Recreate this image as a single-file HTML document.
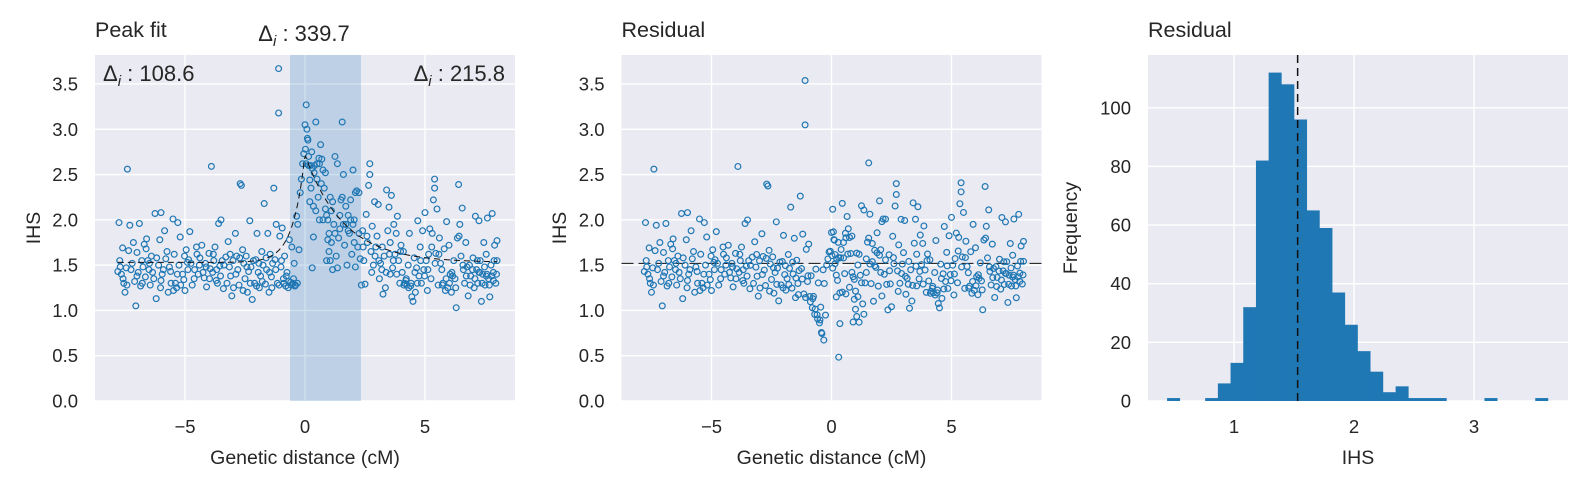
<!DOCTYPE html>
<html><head><meta charset="utf-8"><style>
html,body{margin:0;padding:0;background:#fff;}
svg{display:block;font-family:"Liberation Sans",Arial,sans-serif;}
</style></head><body>
<svg id="fig" width="1588" height="488" viewBox="0 0 1588 488" xmlns="http://www.w3.org/2000/svg"></svg>
<script>
// ---- data ----
const xVals = [
-7.8,-7.75,-7.7,-7.6,-7.55,-7.5,-7.45,-7.4,-7.35,-7.3,
-7.2,-7.1,-7.05,-7.0,-6.9,-6.85,-6.8,-6.7,-6.65,-6.6,
-6.5,-6.45,-6.4,-6.3,-6.25,-6.2,-6.1,-6.05,-6.0,-5.95,
-5.85,-5.8,-5.7,-5.6,-5.5,-5.45,-5.4,-5.3,-5.25,-5.2,
-5.1,-5.0,-4.95,-4.85,-4.8,-4.7,-4.6,-4.5,-4.4,-4.3,
-4.2,-4.1,-4.0,-3.95,-3.9,-3.8,-3.75,-3.7,-3.6,-3.55,
-3.5,-3.4,-3.3,-3.2,-3.1,-3.05,-3.0,-2.9,-2.8,-2.75,
-2.7,-2.65,-2.6,-2.5,-2.45,-2.4,-2.3,-2.25,-2.2,-2.1,
-2.05,-2.0,-1.95,-1.9,-1.8,-1.75,-1.7,-1.65,-1.6,-1.55,
-1.5,-1.45,-1.4,-1.3,-1.25,-1.2,-1.15,-1.1,-1.1,-1.05,
-1.0,-0.95,-0.9,-0.85,-0.8,-0.75,-0.7,-0.65,-0.6,-0.55,
-0.5,-0.45,-0.4,-0.35,-0.3,-0.25,-0.2,-0.15,-0.1,-0.05,
-7.65,-7.0,-6.55,-6.0,-5.65,-5.35,-4.9,-4.45,-4.15,-3.85,
-3.45,-3.15,-2.85,-2.35,-1.85,-1.35,-6.75,-5.05,-3.65,-2.55,
-7.72,-7.58,-7.42,-7.25,-7.15,-6.95,-6.78,-6.62,-6.48,-6.35,
-6.18,-6.02,-5.9,-5.75,-5.58,-5.48,-5.32,-5.18,-5.02,-4.88,
-4.75,-4.62,-4.52,-4.38,-4.25,-4.12,-3.98,-3.82,-3.68,-3.52,
-3.38,-3.25,-3.12,-2.98,-2.88,-2.72,-2.58,-2.42,-2.28,-2.15,
-2.02,-1.92,-1.78,-1.62,-1.48,-1.38,-1.22,-1.08,-0.98,-0.88,
-0.78,-0.68,-0.58,-0.48,-0.42,-0.32,
0.0,0.02,0.05,0.05,0.08,0.1,0.12,0.15,0.2,0.2,
0.25,0.3,0.3,0.35,0.35,0.4,0.45,0.45,0.5,0.55,
0.6,0.6,0.65,0.7,0.75,0.8,0.85,0.9,0.95,1.0,
1.0,1.05,1.1,1.15,1.2,1.25,1.3,1.35,1.4,1.45,
1.5,1.55,1.6,1.6,1.65,1.7,1.75,1.8,1.85,1.9,
1.95,2.0,2.0,2.05,2.1,2.15,2.2,2.25,2.3,0.9,
1.35,0.75,1.1,
0.15,0.22,0.28,0.38,0.5,0.58,0.68,0.85,1.05,1.25,
1.45,1.7,1.9,2.1,2.25,0.95,1.15,1.55,1.8,2.05,
2.35,2.4,2.45,2.5,2.55,2.6,2.65,2.7,2.7,2.75,
2.8,2.85,2.9,3.0,3.05,3.1,3.2,3.25,3.3,3.35,
3.4,3.45,3.5,3.55,3.6,3.65,3.7,3.75,3.8,3.85,
3.9,3.95,4.0,4.05,4.1,4.2,4.3,4.35,4.4,4.45,
4.5,4.55,4.6,4.7,4.75,4.8,4.9,4.95,5.0,5.05,
5.1,5.2,5.25,5.3,5.35,5.4,5.4,5.45,5.5,5.55,
5.6,5.7,5.75,5.8,5.9,5.95,6.0,6.05,6.1,6.2,
6.25,6.3,6.35,6.4,6.45,6.5,6.55,6.6,6.65,6.7,
6.8,6.85,6.9,7.0,7.05,7.1,7.15,7.2,7.25,7.3,
7.35,7.4,7.45,7.5,7.55,7.6,7.65,7.7,7.75,7.8,
7.85,7.9,7.95,8.0,8.0,
3.15,3.55,4.15,4.25,4.65,5.15,5.65,6.15,6.75,7.25,
7.55,7.85,2.95,4.85,5.85,
2.42,2.58,2.78,2.92,3.08,3.22,3.38,3.52,3.68,3.82,
3.98,4.12,4.22,4.32,4.42,4.58,4.68,4.82,4.98,5.12,
5.28,5.42,5.58,5.72,5.88,6.02,6.12,6.28,6.42,6.58,
6.72,6.88,6.98,7.08,7.18,7.28,7.38,7.48,7.58,7.68,
7.78,7.88,7.98
];
const ihsVals = [
1.43,1.97,1.48,1.69,1.30,1.20,1.47,2.56,1.66,1.94,
1.52,1.32,1.05,1.64,1.96,1.27,1.55,1.73,1.37,1.79,
1.45,1.28,1.60,1.35,2.07,1.13,1.50,1.78,2.08,1.40,
1.88,1.57,1.20,1.43,2.01,1.62,1.30,1.97,1.50,1.81,
1.40,1.22,1.67,1.56,1.87,1.28,1.45,1.62,1.50,1.72,
1.36,1.26,1.63,1.46,2.59,1.55,1.70,1.33,1.96,1.49,
2.00,1.24,1.59,1.76,1.38,1.16,1.55,1.85,1.45,1.28,
2.40,2.38,1.67,1.35,1.60,1.20,1.99,1.48,1.12,1.30,
1.56,1.85,1.42,1.25,1.65,1.50,2.18,1.29,1.45,1.85,
1.20,1.62,1.37,2.35,1.56,1.95,1.30,3.67,3.18,1.82,
1.48,1.91,1.35,1.60,1.27,1.42,1.25,1.78,1.31,1.70,
1.30,1.52,1.28,2.04,1.95,1.67,2.30,2.45,2.62,2.73,
1.40,1.38,1.55,1.33,1.48,1.25,1.53,1.40,1.52,1.42,
1.55,1.48,1.60,1.43,1.38,1.52,1.48,1.34,1.30,1.52,
1.55,1.35,1.28,1.45,1.75,1.42,1.30,1.68,1.52,1.42,
1.58,1.25,1.45,1.65,1.30,1.22,1.40,1.28,1.60,1.45,
1.52,1.35,1.70,1.58,1.42,1.48,1.35,1.62,1.45,1.38,
1.50,1.30,1.62,1.25,1.40,1.58,1.22,1.48,1.30,1.55,
1.27,1.52,1.32,1.58,1.42,1.25,1.45,1.28,1.55,1.30,
1.38,1.32,1.28,1.35,1.27,1.30,
3.05,2.78,3.27,2.62,3.00,2.90,2.88,2.60,2.44,2.20,
2.35,1.47,2.57,1.81,2.15,2.60,2.10,3.08,2.45,2.25,
2.00,2.62,2.83,2.67,2.55,2.35,2.12,2.05,2.00,1.85,
1.65,1.55,1.75,1.45,1.95,2.70,1.60,2.62,1.80,1.90,
2.22,3.08,1.95,2.50,1.72,2.15,1.50,2.05,1.85,2.22,
1.62,2.55,1.95,2.00,1.48,2.32,1.70,1.85,1.57,1.55,
1.47,2.00,2.10,
2.70,2.60,2.75,2.52,2.62,2.68,2.40,2.52,2.25,1.85,
2.05,1.95,2.00,2.30,2.30,1.78,2.20,2.25,1.88,1.75,
1.28,1.88,1.55,1.29,2.06,1.75,2.38,2.62,2.50,1.65,
1.93,1.50,2.20,1.82,2.17,1.35,1.45,1.18,1.60,1.25,
2.33,1.88,2.14,1.75,2.27,1.47,1.95,1.62,1.85,2.04,
1.55,1.30,1.72,1.42,1.65,1.33,1.50,1.85,1.27,1.15,
1.10,1.58,1.20,1.99,1.38,1.70,1.88,1.45,2.08,1.55,
1.22,1.90,1.35,1.85,2.22,2.45,2.35,1.63,2.12,1.28,
1.80,1.45,1.30,1.68,1.98,1.25,1.72,1.40,1.20,1.55,
1.35,1.03,1.80,2.39,1.95,1.60,2.13,1.45,1.30,1.75,
1.16,1.50,1.38,1.58,1.25,2.04,1.45,1.30,1.99,1.55,
1.10,1.40,1.75,1.28,1.62,2.02,1.35,1.15,1.50,2.07,
1.42,1.72,1.30,1.77,1.55,
1.52,1.40,1.30,1.28,1.47,1.62,1.52,1.38,1.48,1.42,
1.38,1.33,1.70,1.30,1.22,
1.70,1.82,1.42,1.60,1.55,1.70,1.42,1.62,1.55,1.40,
1.65,1.28,1.35,1.25,1.30,1.42,1.30,1.55,1.38,1.45,
1.70,1.52,1.62,1.28,1.35,1.30,1.42,1.25,1.82,1.50,
1.38,1.28,1.45,1.35,1.55,1.42,1.30,1.48,1.40,1.28,
1.38,1.55,1.40
];
// fit parameters
const fitBase = 1.53, fitAmp = 1.19, fitLamLeft = 0.5, fitLamRight = 1.6;
const spanRange = [-0.625, 2.33];
// histogram of residuals (counts)
const histCounts = [1,0,0,1,6,13,32,82,112,108,96,65,59,37,26,17,10,3,5,1,1,1,0,0,0,1,0,0,0,1];
const histMin = 0.442, histBinW = 0.1058;
const histMean = 1.53;
const scatterYTicks = ["0.0","0.5","1.0","1.5","2.0","2.5","3.0","3.5"];
const scatterXTicks = [-5,0,5];
const histXTicks = [1,2,3];
const histYTicks = [0,20,40,60,80,100];

// ---- helpers ----
const NS="http://www.w3.org/2000/svg";
const svg=document.getElementById('fig');
function mk(tag,attrs,parent){const e=document.createElementNS(NS,tag);for(const k in attrs)e.setAttribute(k,attrs[k]);(parent||svg).appendChild(e);return e;}
function fit(x){return fitBase+fitAmp*Math.exp(-Math.abs(x)/(x<0?fitLamLeft:fitLamRight));}

const TOP=55,BOT=401,W=420;
function panel(L,xd,yd){
  return {L:L,sx:v=>L+(v-xd[0])/(xd[1]-xd[0])*W,sy:v=>BOT-(v-yd[0])/(yd[1]-yd[0])*(BOT-TOP)};
}
const TC="#262626";
function axesBase(p,name,xt,xtl,yt,ytl,ylabel,xlabel,title){
  const g=mk('g',{});
  
  
  const bg=mk('rect',{x:p.L,y:TOP,width:W,height:BOT-TOP,fill:'#eaeaf2'},g);
  
  
  xt.forEach((v,i)=>{
    const gl=mk('line',{x1:p.sx(v),x2:p.sx(v),y1:TOP,y2:BOT,stroke:'#fff','stroke-width':1.4},g);
    
    
    const t=mk('text',{x:p.sx(v),y:433,'text-anchor':'middle','font-size':18.5,fill:TC},g);
    t.textContent=xtl[i];
    
    
  });
  yt.forEach((v,i)=>{
    const gl=mk('line',{x1:p.L,x2:p.L+W,y1:p.sy(v),y2:p.sy(v),stroke:'#fff','stroke-width':1.4},g);
    
    
    const t=mk('text',{x:p.L-17,y:p.sy(v)+6.5,'text-anchor':'end','font-size':18.5,fill:TC},g);
    t.textContent=ytl[i];
    
    
  });
  const yl=mk('text',{x:0,y:0,'text-anchor':'middle','font-size':19.5,fill:TC,transform:`translate(${ylabel[1]},${(TOP+BOT)/2}) rotate(-90)`},g);
  yl.textContent=ylabel[0];
  
  
  const xl=mk('text',{x:p.L+W/2,y:464,'text-anchor':'middle','font-size':19.5,fill:TC},g);
  xl.textContent=xlabel;
  
  
  const ti=mk('text',{x:p.L,y:37,'font-size':21.5,fill:TC},g);
  ti.textContent=title;
  
  
  return g;
}
function delta(x,y,anchor,val,name){
  const t=mk('text',{x:x,y:y,'text-anchor':anchor,'font-size':22,fill:TC});
  
  
  t.innerHTML='Δ<tspan font-style="italic" font-size="15" dy="5">i</tspan><tspan dy="-5"> : '+val+'</tspan>';
}
const yNums=scatterYTicks.map(Number);

// ---- panel 1 ----
const p1=panel(95,[-8.75,8.75],[0,3.82]);
const g1=axesBase(p1,'peak-fit-panel',scatterXTicks,scatterXTicks.map(v=>v<0?'−'+(-v):String(v)),yNums,scatterYTicks,['IHS',40],'Genetic distance (cM)','Peak fit');
const span=mk('rect',{x:p1.sx(spanRange[0]),y:TOP,width:p1.sx(spanRange[1])-p1.sx(spanRange[0]),height:BOT-TOP,fill:'#1f77b4','fill-opacity':0.22},g1);


xVals.forEach((x,i)=>{
  const c=mk('circle',{cx:p1.sx(x),cy:p1.sy(ihsVals[i]),r:2.9,fill:'none',stroke:'#1f77b4','stroke-width':1.2},g1);
  
  
});
let d='';const xmin=Math.min(...xVals),xmax=Math.max(...xVals);
for(let k=0;k<=400;k++){const x=xmin+(xmax-xmin)*k/400;d+=(k?'L':'M')+p1.sx(x).toFixed(2)+','+p1.sy(fit(x)).toFixed(2);}
const fl=mk('path',{d:d,fill:'none',stroke:'#111','stroke-width':1,'stroke-dasharray':'6,4'},g1);


delta(103,81,'start','108.6','delta-left-label');
delta(505,81,'end','215.8','delta-right-label');
delta(304,41,'middle','339.7','delta-peak-label');

// ---- panel 2 ----
const p2=panel(621.5,[-8.75,8.75],[0,3.82]);
const g2=axesBase(p2,'residual-scatter-panel',scatterXTicks,scatterXTicks.map(v=>v<0?'−'+(-v):String(v)),yNums,scatterYTicks,['IHS',566],'Genetic distance (cM)','Residual');
const bl=mk('line',{x1:p2.L,x2:p2.L+W,y1:p2.sy(fitBase-0.01),y2:p2.sy(fitBase-0.01),stroke:'#111','stroke-width':1,'stroke-dasharray':'12,5'},g2);


xVals.forEach((x,i)=>{
  const r=ihsVals[i]-fit(x)+fitBase;
  const c=mk('circle',{cx:p2.sx(x),cy:p2.sy(r),r:2.9,fill:'none',stroke:'#1f77b4','stroke-width':1.2},g2);
  
  
});

// ---- panel 3 ----
const p3=panel(1148,[0.283,3.783],[0,118]);
const g3=axesBase(p3,'residual-histogram-panel',histXTicks,histXTicks.map(String),histYTicks,histYTicks.map(String),['Frequency',1077],'IHS','Residual');
histCounts.forEach((c,i)=>{
  if(!c)return;
  const x0=histMin+i*histBinW;
  const b=mk('rect',{x:p3.sx(x0),y:p3.sy(c),width:p3.sx(x0+histBinW)-p3.sx(x0)+0.3,height:BOT-p3.sy(c),fill:'#1f77b4'},g3);
  
  
});
const ml=mk('line',{x1:p3.sx(histMean),x2:p3.sx(histMean),y1:TOP,y2:BOT,stroke:'#111','stroke-width':1.5,'stroke-dasharray':'8,5'},g3);


</script>
</body></html>
